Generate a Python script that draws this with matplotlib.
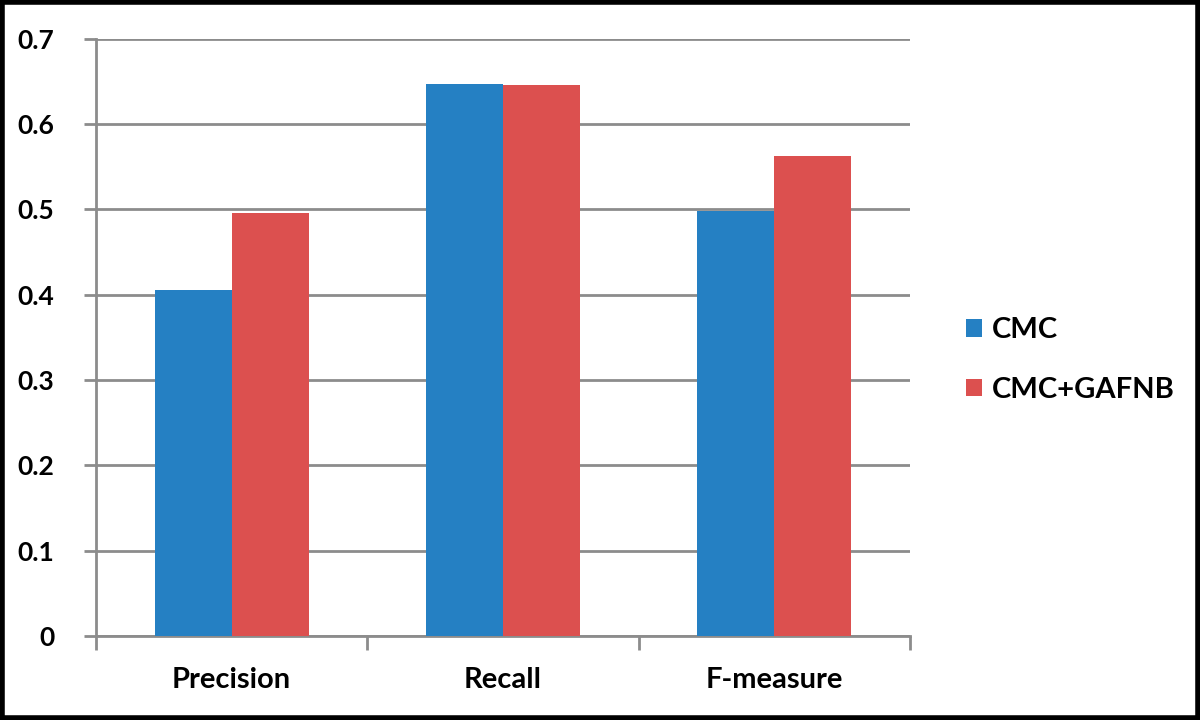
import matplotlib
matplotlib.use("Agg")
import matplotlib.pyplot as plt
import numpy as np

categories = ["Precision", "Recall", "F-measure"]
cmc = [0.405, 0.647, 0.498]
cmc_gafnb = [0.495, 0.645, 0.562]
series_names = ["CMC", "CMC+GAFNB"]
yticks = [0, 0.1, 0.2, 0.3, 0.4, 0.5, 0.6, 0.7]
ytick_labels = ["0", "0.1", "0.2", "0.3", "0.4", "0.5", "0.6", "0.7"]

plt.rcParams["font.family"] = ["Lato", "DejaVu Sans"]
BLUE, RED, GRID = "#2580c3", "#dc504f", "#8c8c8c"

fig = plt.figure(figsize=(12, 7.2), dpi=100)
ax = fig.add_axes([0.08, 0.1167, 0.6783, 0.8298])

x = np.arange(len(categories))
w = 0.284
ax.bar(x - w / 2, cmc, w, color=BLUE, label=series_names[0], zorder=3)
ax.bar(x + w / 2, cmc_gafnb, w, color=RED, label=series_names[1], zorder=3)

ax.set_ylim(0, 0.7)
ax.set_xlim(-0.5, len(categories) - 0.5)
ax.set_yticks(yticks)
ax.set_yticklabels(ytick_labels, fontsize=19, fontweight="bold")
ax.yaxis.grid(True, color=GRID, lw=2, zorder=0)
ax.tick_params(axis="y", length=9, width=2, color=GRID, pad=21)

ax.set_xticks(x)
ax.set_xticklabels(categories, fontsize=21, fontweight="bold")
ax.tick_params(axis="x", which="major", length=0, pad=22)
ax.set_xticks(np.arange(-0.5, len(categories), 1.0), minor=True)
ax.tick_params(axis="x", which="minor", length=10, width=2, color=GRID)

for s in ["top", "right"]:
    ax.spines[s].set_visible(False)
for s in ["left", "bottom"]:
    ax.spines[s].set_color(GRID)
    ax.spines[s].set_linewidth(2)

fig.legend(loc="center left", bbox_to_anchor=(0.783, 0.5), frameon=False,
           prop={"size": 21, "weight": "bold"}, handlelength=0.55, handleheight=0.55,
           handletextpad=0.35, labelspacing=1.15)

fig.patches.append(plt.Rectangle((0.002, 0.003), 0.996, 0.994, transform=fig.transFigure,
                                 fill=False, edgecolor="black", lw=4))
fig.savefig("out.png", dpi=100)
